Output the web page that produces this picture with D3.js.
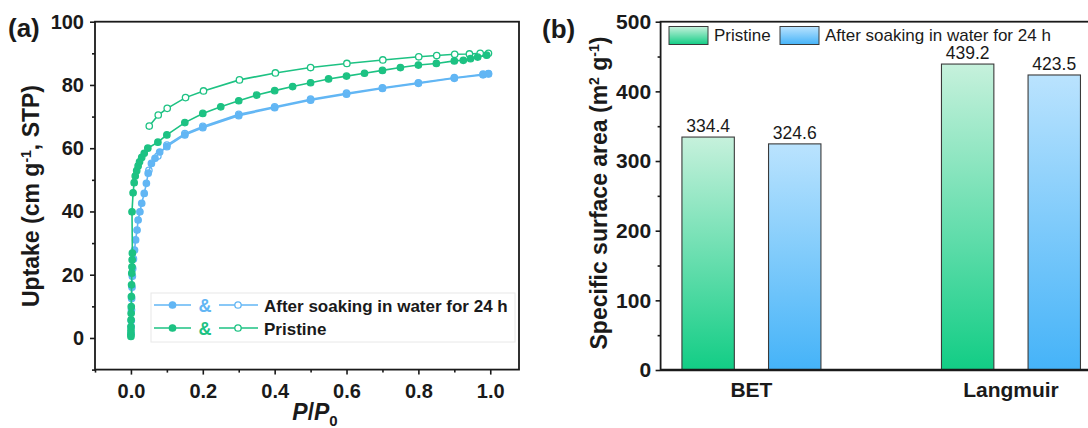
<!DOCTYPE html>
<html>
<head>
<meta charset="utf-8">
<script src="https://cdn.jsdelivr.net/npm/d3@7"></script>
<style>
  html, body { margin: 0; padding: 0; background: #fff; }
  svg { display: block; font-family: "Liberation Sans", Arial, Helvetica, sans-serif; }
</style>
</head>
<body>
<svg id="fig" width="1088" height="428"></svg>
<script>
// ---------- (a) N2 isotherms: [P/P0, uptake] ----------
const pristineAds = [
  [0.00002, 0.5], [0.00005, 1.2], [0.0001, 2.4], [0.0002, 3.6], [0.0004, 5.7],
  [0.0006, 7.8], [0.0009, 9.9], [0.0013, 13.1], [0.0018, 16.8], [0.0024, 20.5],
  [0.0029, 22.5], [0.0034, 24.7], [0.004, 26.8], [0.003, 39.9], [0.006, 45.9],
  [0.009, 49.1], [0.012, 51.2], [0.016, 52.9], [0.020, 54.4], [0.024, 55.7],
  [0.030, 57.1], [0.037, 58.4], [0.047, 60.0], [0.075, 61.9], [0.100, 64.2],
  [0.150, 68.1], [0.200, 71.0], [0.250, 73.1], [0.300, 75.0], [0.350, 76.8],
  [0.400, 78.2], [0.450, 79.5], [0.500, 80.7], [0.550, 81.9], [0.600, 82.8],
  [0.650, 83.7], [0.700, 84.6], [0.750, 85.5], [0.800, 86.3], [0.850, 86.8],
  [0.900, 87.6], [0.925, 87.8], [0.945, 88.3], [0.965, 88.8], [0.990, 89.4]
];
const pristineDes = [
  [0.995, 90.0], [0.972, 90.0], [0.942, 89.8], [0.901, 89.7], [0.851, 89.3],
  [0.801, 88.9], [0.701, 87.9], [0.601, 86.8], [0.500, 85.5], [0.402, 83.8],
  [0.302, 81.6], [0.202, 78.1], [0.152, 76.0], [0.101, 72.6], [0.076, 70.5],
  [0.051, 67.0]
];
const soakedAds = [
  [0.0003, 1.5], [0.0006, 3.5], [0.001, 5.5], [0.0015, 8.9], [0.002, 12.5],
  [0.003, 16.0], [0.004, 19.5], [0.005, 22.0], [0.007, 25.0], [0.010, 27.8],
  [0.013, 31.0], [0.017, 34.1], [0.020, 37.3], [0.025, 39.9], [0.030, 42.6],
  [0.037, 45.7], [0.043, 48.9], [0.048, 52.1], [0.057, 55.2], [0.067, 56.8],
  [0.080, 58.8], [0.100, 60.5], [0.150, 64.2], [0.200, 66.5], [0.300, 70.3],
  [0.400, 72.8], [0.500, 75.2], [0.600, 77.1], [0.700, 78.9], [0.800, 80.5],
  [0.900, 82.1], [0.980, 83.2], [0.995, 83.5]
];
const soakedDes = [
  [0.995, 83.6], [0.980, 83.4], [0.900, 82.3], [0.800, 80.7], [0.700, 79.1],
  [0.600, 77.4], [0.500, 75.5], [0.400, 73.1], [0.300, 70.7], [0.200, 66.9],
  [0.150, 64.6], [0.100, 61.0], [0.075, 57.5], [0.050, 53.0]
];
const xTicksA = [0, 0.2, 0.4, 0.6, 0.8, 1.0];
const xMinorA = [-0.1, 0.1, 0.3, 0.5, 0.7, 0.9];
const yTicksA = [0, 20, 40, 60, 80, 100];
const yMinorA = [-10, 10, 30, 50, 70, 90];

// ---------- (b) specific surface area ----------
const barCategories = ["BET", "Langmuir"];
const barSeries = ["Pristine", "After soaking in water for 24 h"];
const pristineArea = [334.4, 439.2];
const soakedArea = [324.6, 423.5];
const yTicksB = [0, 100, 200, 300, 400, 500];
const yMinorB = [50, 150, 250, 350, 450];

const GREEN = "#1dc283";
const BLUE = "#62b6f4";
const INK = "#1a1a1a";

const svg = d3.select("#fig");
const defs = svg.append("defs");

function grad(id, top, bottom) {
  const g = defs.append("linearGradient").attr("id", id)
    .attr("x1", 0).attr("y1", 0).attr("x2", 0).attr("y2", 1);
  g.append("stop").attr("offset", "0%").attr("stop-color", top);
  g.append("stop").attr("offset", "100%").attr("stop-color", bottom);
}
grad("gPristine", "#c6f1dc", "#12cd85");
grad("gSoaked", "#bae3fe", "#45b3f8");

function styleAxis(g, fs) {
  g.select(".domain").remove();
  g.selectAll(".tick line").attr("stroke", INK).attr("stroke-width", 1.6);
  g.selectAll(".tick text")
    .attr("fill", INK)
    .style("font-size", fs + "px")
    .style("font-weight", "bold");
}

// ================= panel (a) =================
const xA = d3.scaleLinear().domain([-0.1, 1.08]).range([95, 519]);
const yA = d3.scaleLinear().domain([-10, 100]).range([369.6, 21.7]);
const pa = svg.append("g");

pa.append("g").attr("transform", `translate(0,${yA(-10)})`)
  .call(d3.axisBottom(xA).tickValues(xMinorA).tickFormat("").tickSize(3))
  .call(g => styleAxis(g, 18));
pa.append("g").attr("transform", `translate(0,${yA(-10)})`)
  .call(d3.axisBottom(xA).tickValues(xTicksA).tickFormat(d3.format(".1f"))
    .tickSize(5).tickPadding(9.5))
  .call(g => styleAxis(g, 20));
pa.append("g").attr("transform", `translate(${xA(-0.1)},0)`)
  .call(d3.axisLeft(yA).tickValues(yMinorA).tickFormat("").tickSize(3))
  .call(g => styleAxis(g, 18));
pa.append("g").attr("transform", `translate(${xA(-0.1)},0)`)
  .call(d3.axisLeft(yA).tickValues(yTicksA).tickFormat(d3.format("d"))
    .tickSize(5).tickPadding(6))
  .call(g => styleAxis(g, 20));

pa.append("rect")
  .attr("x", xA(-0.1)).attr("y", yA(100))
  .attr("width", xA(1.08) - xA(-0.1)).attr("height", yA(-10) - yA(100))
  .attr("fill", "none").attr("stroke", INK).attr("stroke-width", 1.8);

const lineA = d3.line().x(d => xA(d[0])).y(d => yA(d[1]));

function drawSeries(data, color, filled) {
  pa.append("path").datum(data).attr("d", lineA)
    .attr("fill", "none").attr("stroke", color).attr("stroke-width", 1.6);
  pa.append("g").selectAll("circle").data(data).join("circle")
    .attr("cx", d => xA(d[0])).attr("cy", d => yA(d[1])).attr("r", 3.2)
    .attr("fill", filled ? color : "#fff")
    .attr("stroke", color).attr("stroke-width", 1.3);
}
drawSeries(soakedDes, BLUE, false);
drawSeries(soakedAds, BLUE, true);
drawSeries(pristineDes, GREEN, false);
drawSeries(pristineAds, GREEN, true);

// legend (a): adsorption (filled) & desorption (open) symbols per sample
const legA = pa.append("g");
legA.append("rect").attr("x", 151).attr("y", 293).attr("width", 364).attr("height", 49)
  .attr("fill", "#fff").attr("stroke", "#e8e8e8").attr("stroke-width", 1);
const legRows = [
  { color: BLUE, label: "After soaking in water for 24 h", y: 305 },
  { color: GREEN, label: "Pristine", y: 328 }
];
legRows.forEach(r => {
  legA.append("line").attr("x1", 154).attr("x2", 191).attr("y1", r.y).attr("y2", r.y)
    .attr("stroke", r.color).attr("stroke-width", 1.6);
  legA.append("circle").attr("cx", 172.5).attr("cy", r.y).attr("r", 3.2)
    .attr("fill", r.color).attr("stroke", r.color).attr("stroke-width", 1.3);
  legA.append("text").attr("x", 205).attr("y", r.y + 6.5).attr("text-anchor", "middle")
    .attr("fill", r.color).style("font-size", "18px").style("font-weight", "bold").text("&");
  legA.append("line").attr("x1", 219).attr("x2", 258).attr("y1", r.y).attr("y2", r.y)
    .attr("stroke", r.color).attr("stroke-width", 1.6);
  legA.append("circle").attr("cx", 238).attr("cy", r.y).attr("r", 3.2)
    .attr("fill", "#fff").attr("stroke", r.color).attr("stroke-width", 1.3);
  legA.append("text").attr("x", 264).attr("y", r.y + 6.5)
    .attr("fill", INK).style("font-size", "17px").style("font-weight", "bold").text(r.label);
});

// titles (a)
const tA = pa.append("text").attr("transform", "translate(38.5,196) rotate(-90)")
  .attr("text-anchor", "middle").attr("fill", INK)
  .style("font-size", "23px").style("font-weight", "bold");
tA.append("tspan").text("Uptake (cm g");
tA.append("tspan").attr("dy", -8).style("font-size", "14px").text("-1");
tA.append("tspan").attr("dy", 8).text(", STP)");

const xt = pa.append("text").attr("x", 315).attr("y", 420).attr("text-anchor", "middle")
  .attr("fill", INK).style("font-size", "23px").style("font-weight", "bold")
  .style("font-style", "italic");
xt.append("tspan").text("P");
xt.append("tspan").style("font-style", "normal").text("/");
xt.append("tspan").text("P");
xt.append("tspan").attr("dy", 6).style("font-size", "15px").style("font-style", "normal").text("0");

svg.append("text").attr("x", 8).attr("y", 37).attr("fill", INK)
  .style("font-size", "26px").style("font-weight", "bold").text("(a)");

// ================= panel (b) =================
const xB = d3.scalePoint().domain(barCategories).range([660.6, 1101.8]).padding(0.35);
const xSub = d3.scaleBand().domain(barSeries).range([-69.5, 69.5]).paddingInner(0.395);
const yB = d3.scaleLinear().domain([0, 500]).range([370, 21.7]);
const pb = svg.append("g");

pb.append("g").attr("transform", `translate(660.6,0)`)
  .call(d3.axisLeft(yB).tickValues(yMinorB).tickFormat("").tickSize(3))
  .call(g => styleAxis(g, 18));
pb.append("g").attr("transform", `translate(660.6,0)`)
  .call(d3.axisLeft(yB).tickValues(yTicksB).tickFormat(d3.format("d"))
    .tickSize(5).tickPadding(4.5))
  .call(g => styleAxis(g, 21));

pb.append("rect").attr("x", 660.6).attr("y", yB(500))
  .attr("width", 1101.8 - 660.6).attr("height", yB(0) - yB(500))
  .attr("fill", "none").attr("stroke", INK).attr("stroke-width", 1.8);

const barRows = barCategories.map((c, i) => [
  { cat: c, series: barSeries[0], v: pristineArea[i], fill: "url(#gPristine)" },
  { cat: c, series: barSeries[1], v: soakedArea[i], fill: "url(#gSoaked)" }
]).flat();

pb.append("g").selectAll("rect").data(barRows).join("rect")
  .attr("x", d => xB(d.cat) + xSub(d.series))
  .attr("y", d => yB(d.v))
  .attr("width", xSub.bandwidth())
  .attr("height", d => yB(0) - yB(d.v))
  .attr("fill", d => d.fill)
  .attr("stroke", "#3a3a3a").attr("stroke-width", 1.1);

pb.append("g").selectAll("text").data(barRows).join("text")
  .attr("x", d => xB(d.cat) + xSub(d.series) + xSub.bandwidth() / 2)
  .attr("y", d => yB(d.v) - 5)
  .attr("text-anchor", "middle").attr("fill", INK)
  .style("font-size", "17.5px")
  .text(d => d3.format(".1f")(d.v));

// bottom axis line + category labels
pb.append("line").attr("x1", 660.6).attr("x2", 1101.8).attr("y1", yB(0)).attr("y2", yB(0))
  .attr("stroke", INK).attr("stroke-width", 2.4);
pb.append("g").selectAll("text").data(barCategories).join("text")
  .attr("x", d => xB(d)).attr("y", 397)
  .attr("text-anchor", "middle").attr("fill", INK)
  .style("font-size", "21px").style("font-weight", "bold")
  .text(d => d);

// legend (b)
const legB = [
  { label: barSeries[0], fill: "url(#gPristine)", x: 669 },
  { label: barSeries[1], fill: "url(#gSoaked)", x: 780 }
];
legB.forEach(l => {
  pb.append("rect").attr("x", l.x).attr("y", 26.5).attr("width", 39).attr("height", 18)
    .attr("fill", l.fill).attr("stroke", "#3a3a3a").attr("stroke-width", 1);
  pb.append("text").attr("x", l.x + 45).attr("y", 41).attr("fill", INK)
    .style("font-size", "17px").text(l.label);
});

// y title (b)
const tB = pb.append("text").attr("transform", "translate(607,193) rotate(-90)")
  .attr("text-anchor", "middle").attr("fill", INK)
  .style("font-size", "23px").style("font-weight", "bold");
tB.append("tspan").text("Specific surface area (m");
tB.append("tspan").attr("dy", -8).style("font-size", "14px").text("2");
tB.append("tspan").attr("dy", 8).text(" g");
tB.append("tspan").attr("dy", -8).style("font-size", "14px").text("-1");
tB.append("tspan").attr("dy", 8).text(")");

svg.append("text").attr("x", 542).attr("y", 38).attr("fill", INK)
  .style("font-size", "26px").style("font-weight", "bold").text("(b)");
</script>
</body>
</html>
